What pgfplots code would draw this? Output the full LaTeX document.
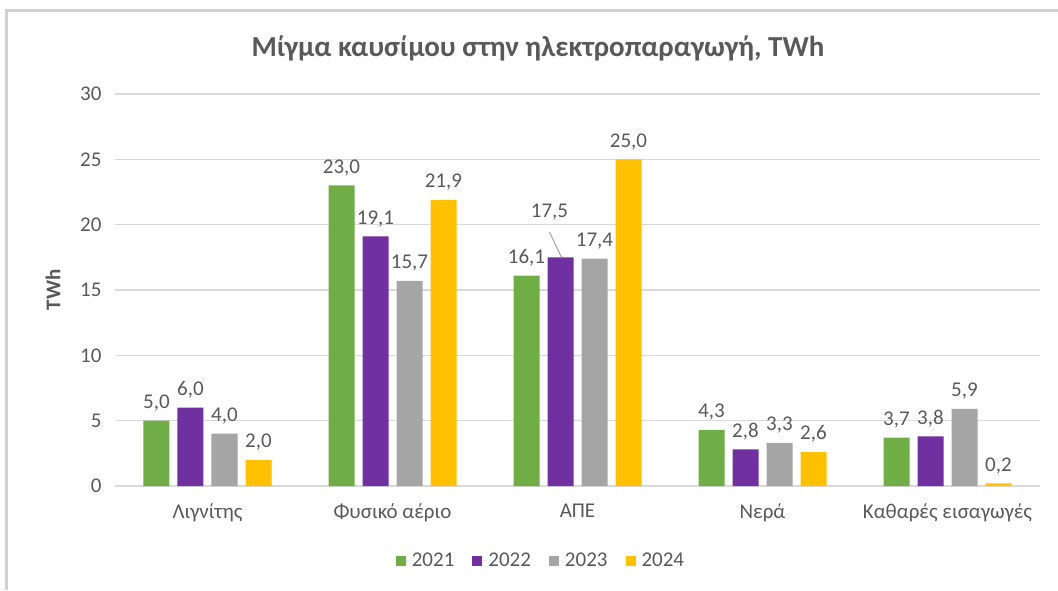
\documentclass[border=0pt]{standalone}
\usepackage{pgfplots}
\pgfplotsset{compat=1.18}
\usepackage{fontspec}
\setmainfont{Carlito}
\definecolor{cA}{HTML}{70AD47}
\definecolor{cB}{HTML}{7030A0}
\definecolor{cC}{HTML}{A5A5A5}
\definecolor{cD}{HTML}{FFC000}
\definecolor{txt}{HTML}{595959}
\definecolor{gridc}{HTML}{D9D9D9}
\definecolor{framec}{HTML}{D0D0D0}
\begin{document}
\begin{tikzpicture}[x=1pt,y=1pt]
\begin{scope}[shift={(-115pt,-104pt)}]
\path[use as bounding box] (0,0) rectangle (1058,590);
\fill[framec] (5,0) rectangle (8,581);
\fill[framec] (5,578) rectangle (1058,581);
\node[txt, font=\fontsize{29}{34}\selectfont\bfseries] at (538,542) {Μίγμα καυσίμου στην ηλεκτροπαραγωγή, TWh};
\node[txt, rotate=90, font=\fontsize{21}{25}\selectfont\bfseries] at (53,300) {TWh};
\end{scope}
\begin{axis}[
  at={(0pt,0pt)}, anchor=south west,
  scale only axis, width=925pt, height=392pt,
  ymin=0, ymax=30, xmin=-0.5, xmax=4.5,
  ytick={0,5,...,30},
  xtick={0,1,2,3,4},
  xticklabels={Λιγνίτης, Φυσικό αέριο, ΑΠΕ, Νερά, Καθαρές εισαγωγές},
  /pgf/number format/assume math mode=true,
  ybar=8pt, bar width=26pt,
  axis line style={draw=none},
  major tick length=0pt,
  ymajorgrids, grid style={gridc, line width=1.5pt},
  tick label style={txt, font=\fontsize{21}{25}\selectfont},
  yticklabel style={xshift=-10pt},
  xticklabel style={yshift=-14pt},
  point meta=explicit symbolic,
  nodes near coords,
  nodes near coords style={txt, font=\fontsize{21}{25}\selectfont, anchor=south, yshift=6pt},
  legend style={at={(0.4605,-0.191)}, anchor=center, draw=none, legend columns=4,
    font=\fontsize{21}{25}\selectfont, text=txt,
    /tikz/every even column/.append style={column sep=16pt}},
  legend image code/.code={\fill[#1] (0pt,-5pt) rectangle (10pt,5pt); \path (0pt,0pt) -- (14pt,0pt);},
]
\addplot[fill=cA, draw=none] coordinates {(0,5.0) [5,0] (1,23.0) [23,0] (2,16.1) [16,1] (3,4.3) [4,3] (4,3.7) [3,7]};
\addplot[fill=cB, draw=none] coordinates {(0,6.0) [6,0] (1,19.1) [19,1] (2,17.5) [{}] (3,2.8) [2,8] (4,3.8) [3,8]};
\addplot[fill=cC, draw=none] coordinates {(0,4.0) [4,0] (1,15.7) [15,7] (2,17.4) [17,4] (3,3.3) [3,3] (4,5.9) [5,9]};
\addplot[fill=cD, draw=none] coordinates {(0,2.0) [2,0] (1,21.9) [21,9] (2,25.0) [25,0] (3,2.6) [2,6] (4,0.2) [0,2]};
\legend{2021, 2022, 2023, 2024}
\node[txt, font=\fontsize{21}{25}\selectfont] at ([xshift=-28pt]axis cs:2,20.96) {17,5};
\draw[cC, line width=1pt] ([xshift=-28pt]axis cs:2,19.43) -- ([xshift=-16pt]axis cs:2,17.5);
\end{axis}
\end{tikzpicture}
\end{document}
